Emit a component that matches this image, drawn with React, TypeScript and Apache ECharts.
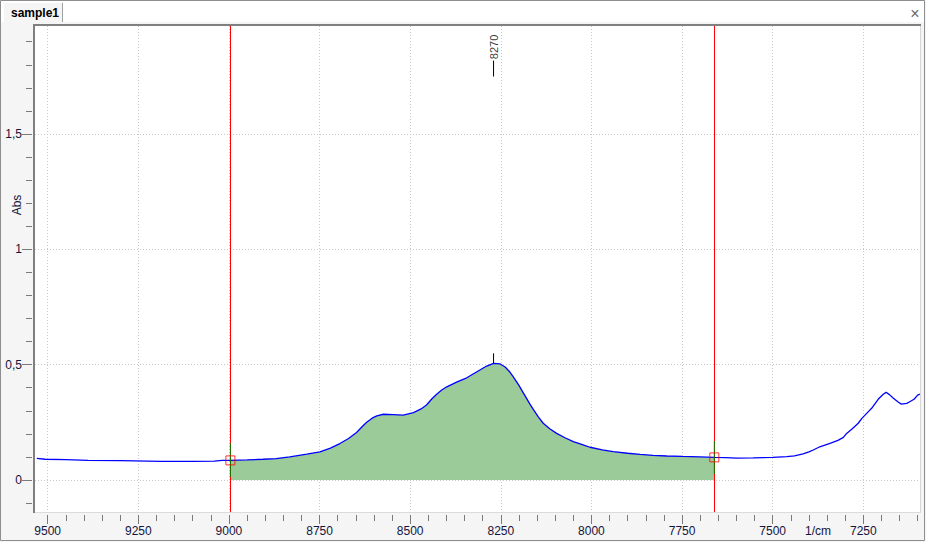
import React, { useEffect, useRef } from "react";
import * as echarts from "echarts";

// Spectrum (wavenumber 1/cm, absorbance)
const WAVENUMBERS = [
  9530, 9507, 9450, 9389, 9300, 9185, 9100, 9040, 9019, 8996, 8950, 8906, 8870, 8832, 8785, 8749,
  8720, 8694, 8670, 8648, 8630, 8620, 8605, 8592, 8574, 8547, 8519, 8491, 8470, 8455, 8440, 8427,
  8413, 8399, 8372, 8344, 8317, 8289, 8270, 8252, 8238, 8225, 8216, 8200, 8188, 8170, 8160, 8147,
  8133, 8115, 8096, 8073, 8050, 8025, 8004, 7970, 7940, 7900, 7866, 7830, 7792, 7750, 7700, 7661,
  7630, 7599, 7554, 7500, 7461, 7440, 7416, 7400, 7388, 7370, 7340, 7320, 7305, 7296, 7282, 7264,
  7254, 7240, 7227, 7209, 7195, 7187, 7178, 7167, 7153, 7145, 7130, 7122, 7110, 7100, 7094,
];
const ABSORBANCE = [
  0.094, 0.09, 0.088, 0.085, 0.084, 0.081, 0.081, 0.082, 0.085, 0.085, 0.087, 0.09, 0.093, 0.1, 0.112, 0.122,
  0.138, 0.158, 0.18, 0.206, 0.235, 0.25, 0.268, 0.278, 0.285, 0.283, 0.281, 0.292, 0.308, 0.325, 0.352, 0.372,
  0.39, 0.404, 0.424, 0.443, 0.468, 0.494, 0.506, 0.503, 0.49, 0.468, 0.448, 0.41, 0.378, 0.33, 0.305, 0.275,
  0.246, 0.222, 0.202, 0.183, 0.166, 0.153, 0.142, 0.131, 0.123, 0.116, 0.111, 0.107, 0.104, 0.102, 0.1, 0.098,
  0.097, 0.095, 0.096, 0.098, 0.101, 0.105, 0.113, 0.122, 0.13, 0.144, 0.16, 0.172, 0.185, 0.202, 0.22, 0.246,
  0.267, 0.29, 0.311, 0.35, 0.372, 0.38, 0.37, 0.354, 0.337, 0.329, 0.332, 0.339, 0.35, 0.368, 0.372,
];

// Integration limits (red cursors) and baseline points
const LIMIT_X = [8996, 7661];
const LIMIT_Y = [0.085, 0.098];
const LIMIT_GREEN_LOW = [0.014, 0.026];
const LIMIT_GREEN_HIGH = [0.159, 0.169];

// Peak annotation
const PEAK_X = 8270;
const PEAK_LABEL = "8270";
const PEAK_TICK = [0.507, 0.549];
const PEAK_TOP_LINE = [1.749, 1.818];
const PEAK_TEXT_Y = 1.877;

// Axes
const X_MAJOR = [9500, 9250, 9000, 8750, 8500, 8250, 8000, 7750, 7500, 7250];
const X_MINOR = [
  9450, 9400, 9350, 9300, 9200, 9150, 9100, 9050, 8950, 8900, 8850, 8800, 8700, 8650, 8600, 8550,
  8450, 8400, 8350, 8300, 8200, 8150, 8100, 8050, 7950, 7900, 7850, 7800, 7700, 7650, 7600, 7550,
  7450, 7400, 7350, 7300, 7200, 7150, 7100,
];
const Y_MAJOR = [0, 0.5, 1, 1.5];
const Y_MINOR = [-0.1, 0.1, 0.2, 0.3, 0.4, 0.6, 0.7, 0.8, 0.9, 1.1, 1.2, 1.3, 1.4, 1.6, 1.7, 1.8, 1.9];
const X_MIN = 7093.6;
const X_MAX = 9535;
const Y_MIN = -0.1387;
const Y_MAX = 1.968;

const TAB_TITLE = "sample1";
const Y_NAME = "Abs";
const X_NAME = "1/cm";

const FONT = "'Liberation Sans', Arial, sans-serif";
const LABEL_COLOR = "#14143c";
const TICK_COLOR = "#7a7a7a";
const GRID_COLOR = "#c8c8c8";

export default function App() {
  const ref = useRef<HTMLDivElement>(null);

  useEffect(() => {
    if (!ref.current) return;
    const chart = echarts.init(ref.current, undefined, { renderer: "svg" });

    const spectrum = WAVENUMBERS.map((w, i) => [w, ABSORBANCE[i]]);
    const area = spectrum.filter((p) => p[0] <= LIMIT_X[0] && p[0] >= LIMIT_X[1]);

    const xAxisBase = {
      type: "value" as const,
      min: X_MIN,
      max: X_MAX,
      inverse: true,
      position: "bottom" as const,
      offset: 3,
      axisLine: { show: false, onZero: false },
    };
    const yAxisBase = {
      type: "value" as const,
      min: Y_MIN,
      max: Y_MAX,
      position: "left" as const,
      offset: 3,
      axisLine: { show: false, onZero: false },
    };

    const greenSegments = LIMIT_X.map((x, i) => ({
      type: "line",
      data: [
        [x, LIMIT_GREEN_LOW[i]],
        [x, LIMIT_GREEN_HIGH[i]],
      ],
      showSymbol: false,
      silent: true,
      lineStyle: { color: "#008000", width: 1 },
      z: 5,
    }));

    const option: any = {
      animation: false,
      grid: { left: 35, right: 6, top: 26, bottom: 30, containLabel: false },
      graphic: [
        { type: "rect", z: -100, shape: { x: 0, y: 0, width: 926, height: 542 }, style: { fill: "#f5f5f5" } },
        { type: "rect", z: -99, shape: { x: 1, y: 1, width: 924, height: 21 }, style: { fill: "#ffffff" } },
        { type: "rect", z: -98, shape: { x: 4, y: 3, width: 58, height: 21 }, style: { fill: "#f5f5f5" } },
        { type: "line", z: -97, shape: { x1: 62.5, y1: 3, x2: 62.5, y2: 22 }, style: { stroke: "#a0a0a0", lineWidth: 1 } },
        { type: "rect", z: -97, shape: { x: 35, y: 26, width: 885, height: 486 }, style: { fill: "#ffffff" } },
        { type: "rect", z: -96, shape: { x: 33, y: 24, width: 888, height: 2 }, style: { fill: "#808080" } },
        { type: "rect", z: -96, shape: { x: 33, y: 24, width: 2, height: 489 }, style: { fill: "#808080" } },
        { type: "line", z: -96, shape: { x1: 920.5, y1: 26, x2: 920.5, y2: 513 }, style: { stroke: "#d6d6d6", lineWidth: 1 } },
        { type: "line", z: -96, shape: { x1: 35, y1: 512.5, x2: 921, y2: 512.5 }, style: { stroke: "#dcdcdc", lineWidth: 1 } },
        { type: "rect", z: 200, shape: { x: 0.5, y: 0.5, width: 924, height: 540 }, style: { fill: "none", stroke: "#8e8e8e", lineWidth: 1 } },
        {
          type: "text", z: 200, x: 11, y: 13,
          style: { text: TAB_TITLE, font: `bold 12px ${FONT}`, fill: "#000000", verticalAlign: "middle", align: "left" },
        },
        {
          type: "text", z: 200, x: 915, y: 13,
          style: { text: "×", font: `16px ${FONT}`, fill: "#6a6a6a", verticalAlign: "middle", align: "center" },
        },
        {
          type: "text", z: 200, x: 17, y: 205, rotation: Math.PI / 2,
          style: { text: Y_NAME, font: `12px ${FONT}`, fill: LABEL_COLOR, verticalAlign: "middle", align: "center" },
        },
        {
          type: "text", z: 200, x: 818, y: 531,
          style: { text: X_NAME, font: `12px ${FONT}`, fill: LABEL_COLOR, verticalAlign: "middle", align: "center" },
        },
      ],
      xAxis: [
        {
          ...xAxisBase,
          axisTick: { show: true, customValues: X_MAJOR, length: 9, lineStyle: { color: TICK_COLOR, width: 1 } },
          axisLabel: {
            show: true, customValues: X_MAJOR, margin: 10, fontSize: 12, fontFamily: FONT, color: LABEL_COLOR,
            formatter: (v: number) => String(v),
          },
          splitLine: { show: true, lineStyle: { color: GRID_COLOR, width: 1, type: [1, 2] } },
        },
        {
          ...xAxisBase,
          axisTick: { show: true, customValues: X_MINOR, length: 6, lineStyle: { color: TICK_COLOR, width: 1 } },
          axisLabel: { show: false },
          splitLine: { show: false },
        },
      ],
      yAxis: [
        {
          ...yAxisBase,
          axisTick: { show: true, customValues: Y_MAJOR, length: 10, lineStyle: { color: TICK_COLOR, width: 1 } },
          axisLabel: {
            show: true, customValues: Y_MAJOR, margin: 10, fontSize: 12, fontFamily: FONT, color: LABEL_COLOR,
            formatter: (v: number) => String(v).replace(".", ","),
          },
          splitLine: { show: true, lineStyle: { color: GRID_COLOR, width: 1, type: [1, 2] } },
        },
        {
          ...yAxisBase,
          axisTick: { show: true, customValues: Y_MINOR, length: 6, lineStyle: { color: TICK_COLOR, width: 1 } },
          axisLabel: { show: false },
          splitLine: { show: false },
        },
      ],
      series: [
        {
          type: "line",
          data: area,
          showSymbol: false,
          silent: true,
          lineStyle: { width: 0, opacity: 0 },
          areaStyle: { color: "#9bcb98", opacity: 1 },
          z: 2,
        },
        {
          type: "line",
          data: spectrum,
          showSymbol: false,
          silent: true,
          lineStyle: { color: "#0000ff", width: 1.3 },
          z: 3,
          markLine: {
            silent: true,
            symbol: ["none", "none"],
            label: { show: false },
            lineStyle: { color: "#ff0000", width: 1, type: "solid" },
            data: LIMIT_X.map((x) => ({ xAxis: x })),
          },
        },
        ...greenSegments,
        {
          type: "scatter",
          data: LIMIT_X.map((x, i) => [x, LIMIT_Y[i]]),
          symbol: "rect",
          symbolSize: 9,
          silent: true,
          itemStyle: { color: "rgba(0,0,0,0)", borderColor: "#ff0000", borderWidth: 1 },
          z: 6,
        },
        {
          type: "line",
          data: [
            [PEAK_X, PEAK_TICK[0]],
            [PEAK_X, PEAK_TICK[1]],
          ],
          showSymbol: false,
          silent: true,
          lineStyle: { color: "#000000", width: 1 },
          z: 6,
        },
        {
          type: "line",
          data: [
            [PEAK_X, PEAK_TOP_LINE[0]],
            [PEAK_X, PEAK_TOP_LINE[1]],
          ],
          showSymbol: false,
          silent: true,
          lineStyle: { color: "#000000", width: 1 },
          z: 6,
        },
        {
          type: "scatter",
          data: [[PEAK_X, PEAK_TEXT_Y]],
          symbolSize: 1,
          silent: true,
          itemStyle: { color: "rgba(0,0,0,0)" },
          label: {
            show: true,
            position: "inside",
            rotate: 90,
            formatter: PEAK_LABEL,
            fontSize: 11,
            fontFamily: FONT,
            color: "#000000",
          },
          z: 6,
        },
      ],
    };

    chart.setOption(option);
    return () => chart.dispose();
  }, []);

  return (
    <div
      ref={ref}
      style={{ position: "absolute", left: 0, top: 0, width: 926, height: 542 }}
    />
  );
}
